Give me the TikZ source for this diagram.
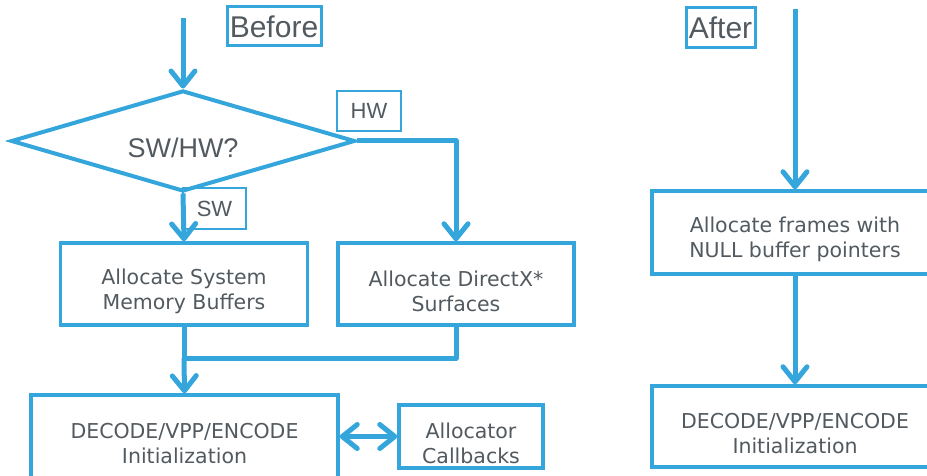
\documentclass[tikz,border=0pt]{standalone}
\usepackage{fontspec}
\setmainfont{DejaVu Sans}
\newfontfamily\arialf{Liberation Sans}
\usetikzlibrary{arrows.meta,shapes.geometric}
\definecolor{cblue}{RGB}{53,166,220}
\definecolor{ctext}{RGB}{82,90,96}
\begin{document}
\begin{tikzpicture}[x=1pt,y=-1pt,
  box/.style={draw=cblue,line width=3.5pt,inner sep=0pt,fill=white},
  boxtext/.style={text=ctext,font=\fontsize{20.5}{25}\selectfont,align=center,inner sep=0pt},
  tagbox/.style={draw=cblue,line width=1.5pt,inner sep=0pt,text=ctext,font=\arialf\fontsize{22}{22}\selectfont},
  titlebox/.style={draw=cblue,line width=3pt,inner sep=0pt,text=ctext,font=\arialf\fontsize{30}{30}\selectfont},
  tipb/.tip={Straight Barb[length=15pt,width=24pt,line cap=round,line join=round]},
  conn/.style={draw=cblue,line width=5pt,line join=round},
  arr/.style={conn,-tipb},
  darr/.style={conn,tipb-tipb}]
\useasboundingbox (0,0) rectangle (927,476);
\fill[white] (0,0) rectangle (927,476);

% ---------- Before ----------
\node[titlebox,minimum width=94pt,minimum height=39pt] (before) at (274,26.5) {Before};
\coordinate (bstart) at (183,18);
\node[diamond,draw=cblue,line width=4pt,minimum width=344pt,minimum height=101pt,inner sep=0pt] (dia) at (183,141) {};
\node[text=ctext,font=\arialf\fontsize{27}{27}\selectfont,inner sep=0pt] (diat) at (183,148) {SW/HW?};

\node[box,minimum width=247pt,minimum height=82pt] (sys) at (184,284) {};
\node[boxtext] (syst) at ([yshift=-7pt]sys.center) {Allocate System\\Memory Buffers};
\node[box,minimum width=236pt,minimum height=82pt] (dx) at (456,284) {};
\node[boxtext] (dxt) at ([yshift=-7pt]dx.center) {Allocate DirectX*\\Surfaces};
\node[box,minimum width=307pt,minimum height=83pt] (dec) at (184.5,436.5) {};
\node[boxtext] (dect) at ([yshift=-7pt]dec.center) {DECODE/VPP/ENCODE\\Initialization};
\node[box,minimum width=144pt,minimum height=63pt] (alloc) at (471,436.5) {};
\node[boxtext] (alloct) at ([yshift=-7pt]alloc.center) {Allocator\\Callbacks};

\draw[arr] (bstart) -- (dia.north);
\draw[arr] (dia.east) -| (dx.north);
\draw[arr] (dia.south) -- (sys.north);
\coordinate (merge) at (184,358);
\draw[conn] (sys.south) -- (merge);
\draw[conn] (dx.south) |- (merge);
\draw[arr] (merge) -- (dec.north);
\draw[darr] (dec.east) -- (alloc.west);

\node[tagbox,minimum width=64pt,minimum height=40pt] (hw) at (369,111) {HW};
\node[tagbox,minimum width=63pt,minimum height=41pt] (sw) at (214.5,208.5) {SW};

% ---------- After ----------
\node[titlebox,minimum width=69pt,minimum height=40pt] (after) at (720.5,28) {After};
\coordinate (astart) at (795,9);
\node[box,minimum width=286pt,minimum height=83pt] (frames) at (795,232.5) {};
\node[boxtext] (framest) at ([yshift=-7pt]frames.center) {Allocate frames with\\NULL buffer pointers};
\node[box,minimum width=286pt,minimum height=81pt] (dec2) at (795,426.5) {};
\node[boxtext] (dec2t) at ([yshift=-7pt]dec2.center) {DECODE/VPP/ENCODE\\Initialization};
\draw[arr] (astart) -- (frames.north);
\draw[arr] (frames.south) -- (dec2.north);
\end{tikzpicture}
\end{document}
